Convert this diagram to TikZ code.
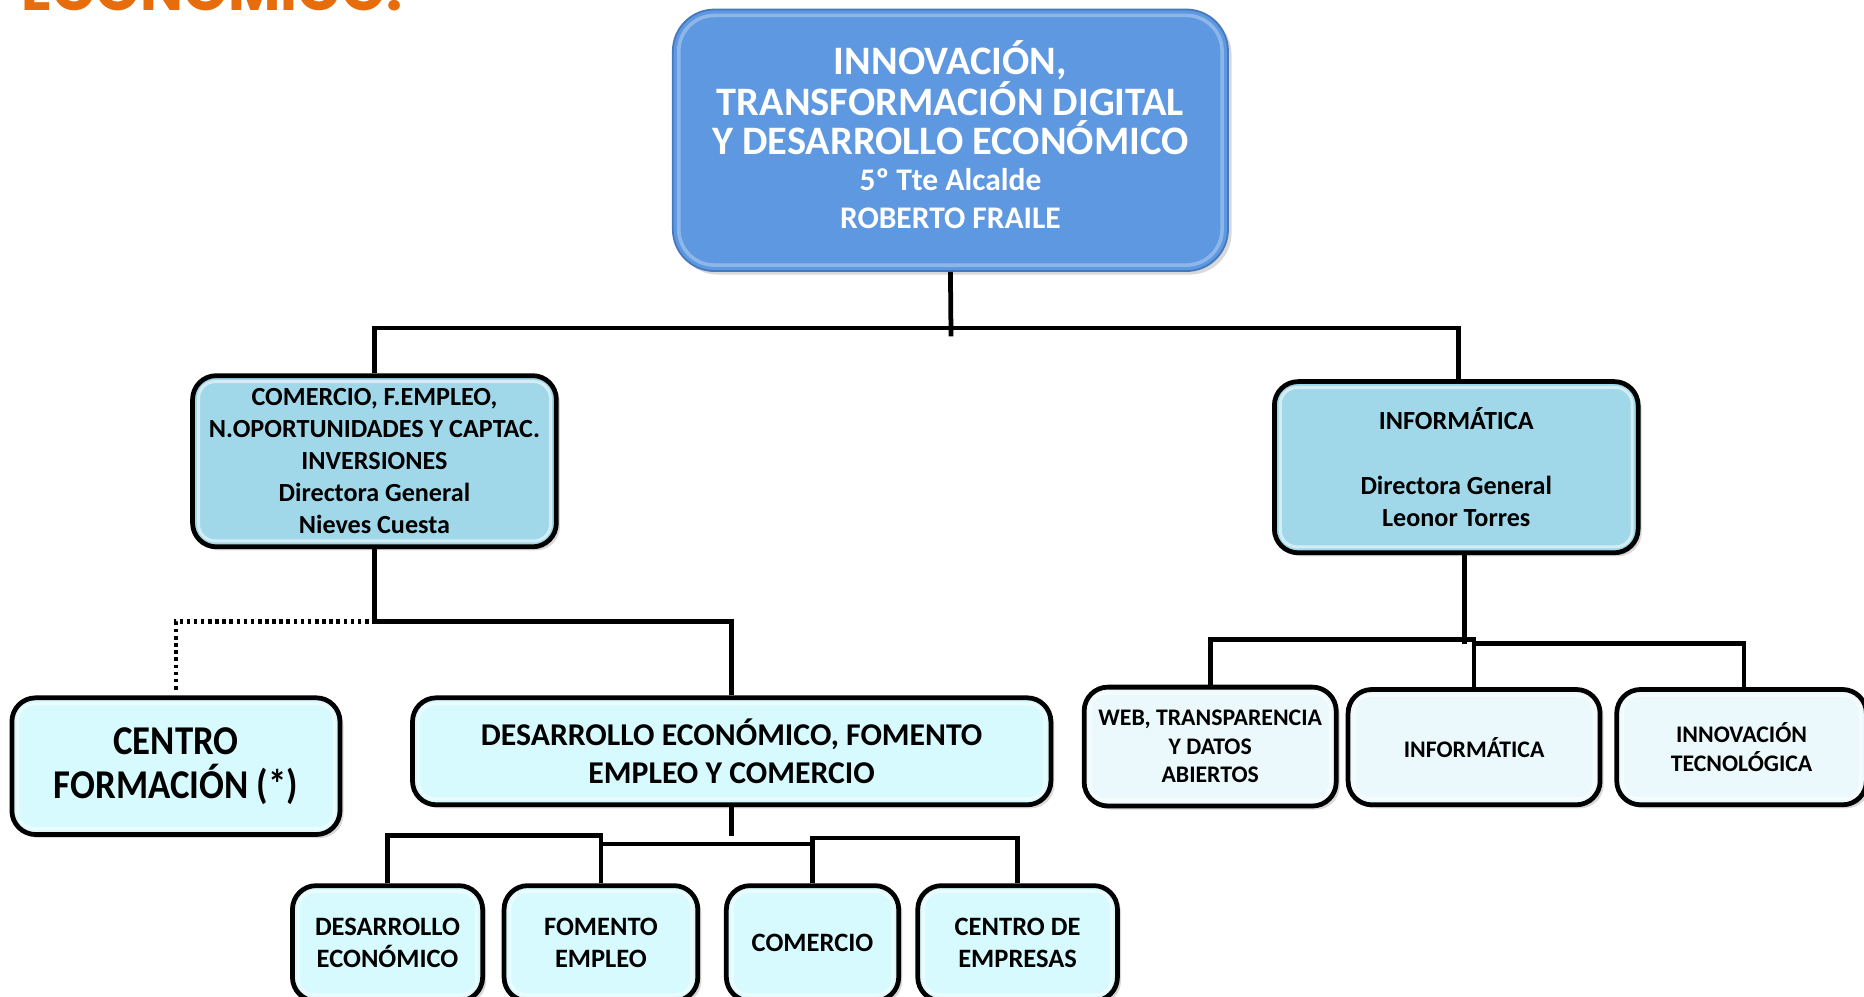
\documentclass[tikz,border=0pt]{standalone}
\usepackage{fontspec}
\setmainfont{Carlito}
\newfontfamily\titlefont{Poppins}
\newfontfamily\condfont{Carlito}[FakeStretch=0.9]
\usetikzlibrary{shadows}
\definecolor{topblue}{RGB}{94,152,224}
\definecolor{topedge}{RGB}{70,120,190}
\definecolor{midblue}{RGB}{160,216,234}
\definecolor{cyanbox}{RGB}{214,250,253}
\definecolor{palebox}{RGB}{236,249,252}
\definecolor{titleorange}{RGB}{230,108,12}
\begin{document}
\begin{tikzpicture}[x=1pt,y=-1pt,
  orgbox/.style={draw=black, line width=4pt, rounded corners=20pt, align=center,
    inner sep=0pt, text=black,
    drop shadow={shadow xshift=3pt,shadow yshift=-3pt,opacity=0.3},
    path picture={\draw[white,opacity=0.55,line width=2.5pt,rounded corners=14pt]
      ([shift={(5pt,-5pt)}]path picture bounding box.north west) rectangle
      ([shift={(-5pt,5pt)}]path picture bounding box.south east);}},
  topbox/.style={draw=topedge, line width=1.5pt, fill=topblue, rounded corners=35pt,
    align=center, inner sep=0pt, text=white,
    drop shadow={shadow xshift=3pt,shadow yshift=-3pt,opacity=0.3},
    path picture={\draw[white,opacity=0.3,line width=3pt,rounded corners=30pt]
      ([shift={(5pt,-5pt)}]path picture bounding box.north west) rectangle
      ([shift={(-5pt,5pt)}]path picture bounding box.south east);}},
  link/.style={line width=4pt, draw=black},
  dots/.style={line width=4pt, draw=black, dash pattern=on 3pt off 3pt}
]
\useasboundingbox (0,0) rectangle (1568,838);

% title (cut at the top edge)
\node[anchor=base west, inner sep=0pt, text=titleorange,
  font=\titlefont\bfseries\fontsize{48}{48}\selectfont] (title) at (18,9) {ECONÓMICO.};

% top box
\node[topbox, minimum width=467pt, minimum height=220pt, text depth=9pt,
  font=\bfseries\fontsize{34}{33}\selectfont] (top) at (799.5,118)
 {INNOVACIÓN,\\TRANSFORMACIÓN DIGITAL\\Y DESARROLLO ECONÓMICO\\[-2.5pt]{\fontsize{26.5}{32}\selectfont 5º Tte Alcalde}\\[-1pt]{\fontsize{26.5}{32}\selectfont ROBERTO FRAILE}};

% level 2
\node[orgbox, fill=midblue, minimum width=306pt, minimum height=144pt,
  font=\bfseries\fontsize{22}{27}\selectfont] (lbox) at (315,388)
 {COMERCIO, F.EMPLEO,\\N.OPORTUNIDADES Y CAPTAC.\\INVERSIONES\\Directora General\\Nieves Cuesta};
\node[orgbox, fill=midblue, minimum width=306pt, minimum height=144pt,
  font=\bfseries\fontsize{22}{27}\selectfont] (rbox) at (1225,393)
 {INFORMÁTICA\\[27pt]Directora General\\Leonor Torres};

% level 3 left
\node[orgbox, fill=cyanbox, minimum width=276pt, minimum height=115pt,
  font=\condfont\bfseries\fontsize{34.4}{37}\selectfont] (centro) at (148,644.5)
 {CENTRO\\FORMACIÓN (*)};
\node[orgbox, fill=cyanbox, minimum width=537pt, minimum height=90pt,
  font=\bfseries\fontsize{26.7}{32}\selectfont] (desa) at (615.5,632)
 {DESARROLLO ECONÓMICO, FOMENTO\\EMPLEO Y COMERCIO};

% level 4 left
\tikzset{small/.style={orgbox, fill=cyanbox, minimum height=97pt, font=\bfseries\fontsize{22.3}{27}\selectfont}}
\node[small, minimum width=160pt] (b1) at (326,793.5) {DESARROLLO\\ECONÓMICO};
\node[small, minimum width=163pt] (b2) at (505.5,793.5) {FOMENTO\\EMPLEO};
\node[small, minimum width=145pt] (b3) at (683.5,793.5) {COMERCIO};
\node[small, minimum width=168pt] (b4) at (856,793.5) {CENTRO DE\\EMPRESAS};

% level 3 right
\tikzset{rsmall/.style={orgbox, fill=palebox, minimum width=212pt, font=\bfseries\fontsize{20}{24}\selectfont}}
\node[rsmall, minimum height=100pt] (r1) at (1018,628) {WEB, TRANSPARENCIA\\Y DATOS\\ABIERTOS};
\node[rsmall, minimum height=97pt] (r2) at (1240,628.5) {INFORMÁTICA};
\node[rsmall, minimum height=97pt, minimum width=210pt] (r3) at (1465,628.5) {INNOVACIÓN\\TECNOLÓGICA};

% connectors
\coordinate (hub1) at (800,276);
\coordinate (stem1) at (800,283);
\draw[link] (top.south) -- (stem1);
\draw[link] (lbox.north) |- (hub1) -| ([xshift=2pt]rbox.north);

\coordinate (j2) at (315,523);
\draw[link] (lbox.south) -- (j2) -| (desa.north);
\coordinate (c2) at (148,581);
\draw[dots] ([xshift=-5pt]j2) -| (c2);

\draw[link] (desa.south) -- ++(0,24);
\draw[link] (b1.north) -- ++(0,-40) -| (b2.north);
\draw[link] ([yshift=33pt]b2.north) -- ([yshift=33pt]b3.north);
\draw[link] (b3.north) -- ++(0,-38) -| (b4.north);

\draw[link] ([xshift=7pt]rbox.south) -- ++(0,75);
\draw[link] (r1.north) -- ++(0,-38) -| (r2.north);
\draw[link] ([yshift=37pt]r2.north) -| ([xshift=2pt]r3.north);
\end{tikzpicture}
\end{document}
